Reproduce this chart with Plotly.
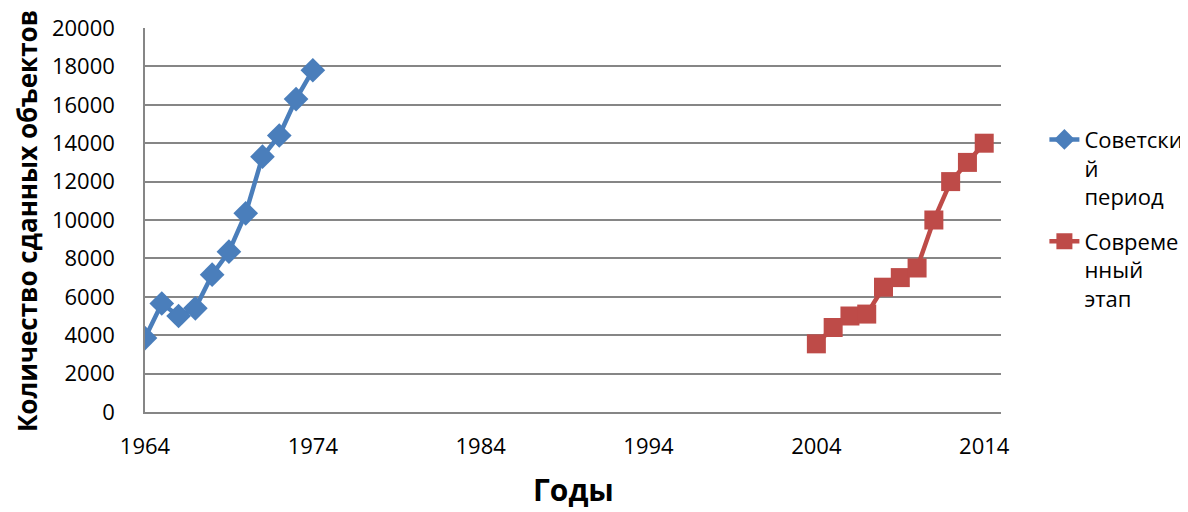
import plotly.graph_objects as go

soviet_years = [1964, 1965, 1966, 1967, 1968, 1969, 1970, 1971, 1972, 1973, 1974]
soviet_values = [3850, 5650, 5000, 5400, 7150, 8350, 10350, 13300, 14400, 16300, 17800]
modern_years = [2004, 2005, 2006, 2007, 2008, 2009, 2010, 2011, 2012, 2013, 2014]
modern_values = [3550, 4400, 5000, 5100, 6500, 7000, 7500, 10000, 12000, 13000, 14000]
x_ticks = [1964, 1974, 1984, 1994, 2004, 2014]
y_ticks = list(range(0, 20001, 2000))

series_names = ["Советски<br>й<br>период", "Совреме<br>нный<br>этап"]
x_title = "Годы"
y_title = "Количество сданных объектов"
blue = "#4A7EBB"
red = "#BE4B48"

fig = go.Figure()
fig.add_trace(go.Scatter(
    x=soviet_years, y=soviet_values, name=series_names[0], legendgroup="g1",
    mode="lines+markers",
    line=dict(color=blue, width=4.5),
    marker=dict(symbol="diamond", size=19, color=blue),
))
fig.add_trace(go.Scatter(
    x=modern_years, y=modern_values, name=series_names[1], legendgroup="g2",
    mode="lines+markers",
    line=dict(color=red, width=4.5),
    marker=dict(symbol="square", size=19, color=red),
))

font_family = "Open Sans"
fig.update_layout(
    width=1230, height=504,
    margin=dict(l=137, r=237, t=20, b=100),
    paper_bgcolor="white", plot_bgcolor="white",
    font=dict(family=font_family, size=22, color="black"),
    showlegend=True,
    legend=dict(
        x=1.0507, y=0.764, xanchor="left", yanchor="top",
        font=dict(size=22, family=font_family, color="black"),
        valign="top", tracegroupgap=13, itemwidth=30,
        bgcolor="rgba(0,0,0,0)",
    ),
    xaxis=dict(
        range=[1964, 2015], tickvals=x_ticks, ticktext=[str(v) for v in x_ticks],
        showgrid=False, zeroline=False, automargin=False,
        showline=True, linecolor="#868686", linewidth=1.5,
        ticks="outside", ticklen=14, tickcolor="rgba(0,0,0,0)",
    ),
    yaxis=dict(
        range=[0, 20000], tickvals=y_ticks, ticktext=[str(v) for v in y_ticks],
        showgrid=True, gridcolor="#868686", gridwidth=1.5,
        zeroline=False, automargin=False,
        showline=True, linecolor="#868686", linewidth=1.5,
        ticks="outside", ticklen=24, tickcolor="rgba(0,0,0,0)",
    ),
    annotations=[
        dict(text="<b>" + x_title + "</b>", xref="paper", yref="paper",
             x=0.5, y=-0.203, xanchor="center", yanchor="middle", showarrow=False,
             font=dict(size=30, family=font_family, color="black")),
        dict(text="<b>" + y_title + "</b>", xref="paper", yref="paper",
             x=-0.1379, y=0.497, xanchor="center", yanchor="middle", showarrow=False,
             textangle=-90, font=dict(size=26, family=font_family, color="black")),
    ],
)

fig.write_html("out.html")
